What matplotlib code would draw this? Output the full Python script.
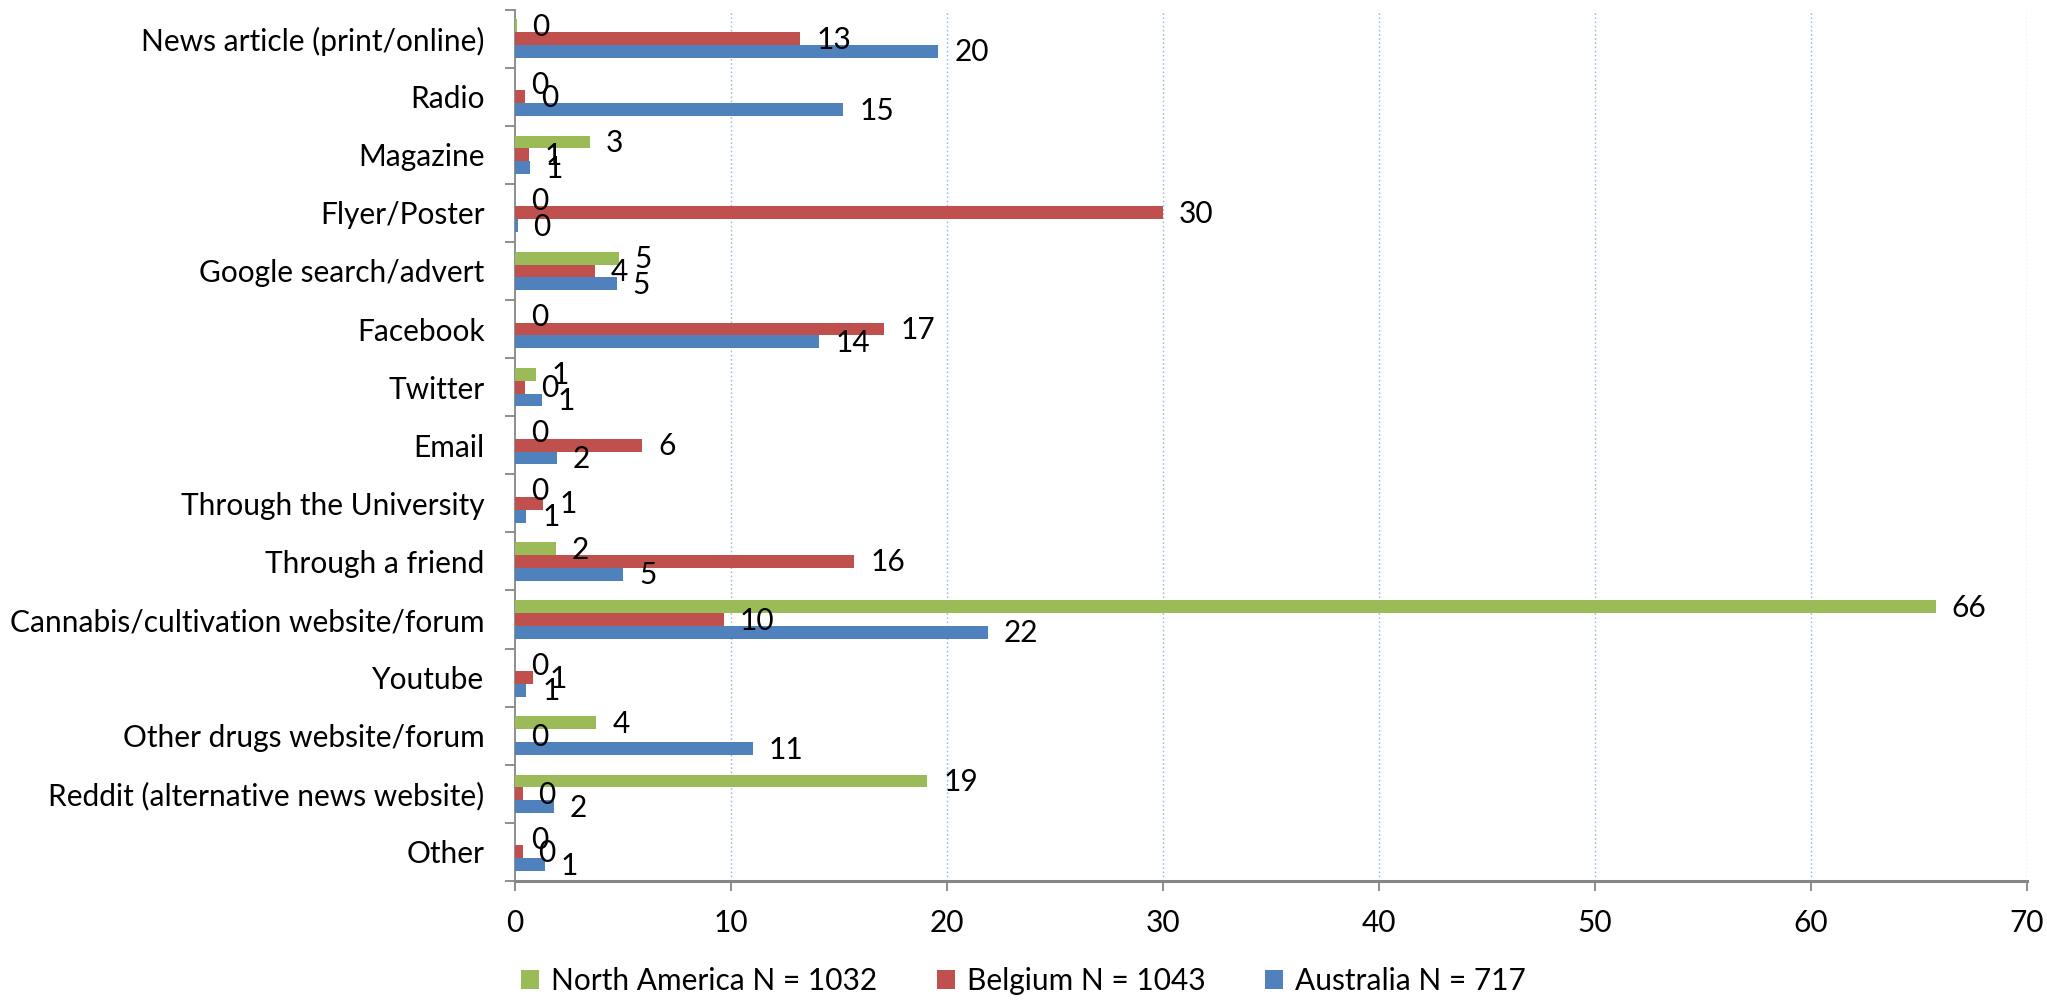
import matplotlib
matplotlib.use("Agg")
import matplotlib.pyplot as plt
import numpy as np
from matplotlib.ticker import FixedLocator
from matplotlib.patches import Patch

categories = [
    "News article (print/online)", "Radio", "Magazine", "Flyer/Poster",
    "Google search/advert", "Facebook", "Twitter", "Email",
    "Through the University", "Through a friend",
    "Cannabis/cultivation website/forum", "Youtube",
    "Other drugs website/forum", "Reddit (alternative news website)", "Other",
]
north_america = [0.07, 0, 3.45, 0, 4.8, 0, 0.97, 0, 0, 1.9, 65.8, 0, 3.76, 19.1, 0]
belgium = [13.2, 0.45, 0.64, 30.0, 3.7, 17.1, 0.45, 5.9, 1.3, 15.7, 9.67, 0.85, 0, 0.35, 0.35]
australia = [19.6, 15.2, 0.69, 0.12, 4.7, 14.1, 1.23, 1.94, 0.52, 5.0, 21.9, 0.52, 11.0, 1.8, 1.37]
series_names = ["North America N = 1032", "Belgium N = 1043", "Australia N = 717"]
x_ticks = [0, 10, 20, 30, 40, 50, 60, 70]

colors = ["#9BBB59", "#C0504D", "#4F81BD"]
FONT = "Lato"
FS = 21.5

plt.rcParams['font.family'] = [FONT, 'DejaVu Sans']

fig = plt.figure(figsize=(20.47, 10.02), dpi=100)
ax = fig.add_axes([0.2516, 0.1208, 0.990 - 0.2516, 0.9905 - 0.1208])

n = len(categories)
y = np.arange(n)
h = 0.221
offsets = [-h, 0, h]
for vals, col, off in zip([north_america, belgium, australia], colors, offsets):
    ax.barh(y + off, vals, height=h, color=col, edgecolor='none', zorder=3)
    for yi, v in zip(y, vals):
        ax.annotate(f"{v:.0f}", xy=(v, yi + off), xytext=(16, -1),
                    textcoords='offset pixels', ha='left', va='center',
                    fontsize=FS, color='black', zorder=5)

ax.set_xlim(0, 70)
ax.set_ylim(n - 0.5, -0.5)
ax.xaxis.set_major_locator(FixedLocator(x_ticks))
ax.set_xticklabels([str(t) for t in x_ticks], fontsize=FS)
ax.set_yticks(y)
ax.set_yticklabels(categories, fontsize=FS)
ax.yaxis.set_minor_locator(FixedLocator(np.arange(-0.5, n, 1.0)))
ax.tick_params(axis='y', which='major', length=0, pad=22)
ax.tick_params(axis='y', which='minor', length=7, width=1.3, color='#868686', direction='out')
ax.tick_params(axis='x', which='major', length=7, width=1.3, color='#868686', direction='out', pad=13)

for s in ['top', 'right']:
    ax.spines[s].set_visible(False)
ax.spines['left'].set_color('#868686')
ax.spines['left'].set_linewidth(1.3)
ax.spines['bottom'].set_color('#868686')
ax.spines['bottom'].set_linewidth(2.2)

for t in x_ticks[1:]:
    ax.axvline(t, color='#9DB5E8', linestyle=(0, (1.2, 1.8)), linewidth=1.0, zorder=1)

handles = [Patch(facecolor=c, edgecolor='none') for c in colors]
fig.legend(handles, series_names, loc='center', bbox_to_anchor=(0.5, 0.021), ncol=3,
           frameon=False, fontsize=FS, handlelength=0.6, handleheight=0.6,
           handletextpad=0.4, columnspacing=2.0)

fig.savefig("out.png", dpi=100, facecolor='white')
